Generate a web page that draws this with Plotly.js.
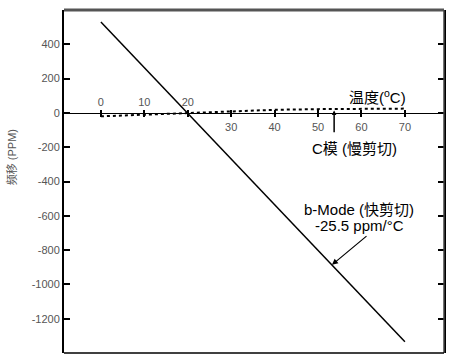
<!DOCTYPE html>
<html>
<head>
<meta charset="utf-8">
<script src="https://cdn.plot.ly/plotly-3.0.1.min.js"></script>
<style>html,body{margin:0;padding:0;background:#fff}#chart{width:450px;height:359px}</style>
</head>
<body>
<div id="chart"></div>
<script>
// Data
const bModeTemp = [0, 70];
const bModeShift = [530, -1335];
const cModeTemp = [0, 10, 20, 30, 40, 50, 60, 70];
const cModeShift = [-20, -10, 0, 12, 18, 22, 24, 25];
const xTickVals = [0, 10, 20, 30, 40, 50, 60, 70];
const xLabelsAbove = ['0', '10', '20', '', '', '', '', ''];
const xLabelsBelow = ['', '', '', '30', '40', '50', '60', '70'];
const yTickVals = [-1200, -1000, -800, -600, -400, -200, 0, 200, 400];
const yTickText = ['-1200', '-1000', '-800', '-600', '-400', '-200', '0', '200', '400'];

const FONT = '"Liberation Sans", Arial, "Noto Sans CJK SC", sans-serif';
const yMin = -1400, yMax = 600;
const zeroPos = (0 - yMin) / (yMax - yMin);

const traces = [
  {x: bModeTemp, y: bModeShift, type: 'scatter', mode: 'lines',
   line: {color: '#000', width: 1.5}, hoverinfo: 'skip'},
  {x: cModeTemp, y: cModeShift, type: 'scatter', mode: 'lines',
   line: {color: '#000', width: 2, dash: 'dot'}, hoverinfo: 'skip'},
  {x: [0], y: [0], xaxis: 'x2', type: 'scatter', mode: 'markers',
   marker: {opacity: 0}, hoverinfo: 'skip'}
];

const tickFont = {family: FONT, size: 11, color: '#555'};
const labelFont = {family: FONT, size: 15, color: '#000'};
const layout = {
  width: 450, height: 359,
  margin: {l: 64, r: 6, t: 10, b: 6},
  paper_bgcolor: '#fff', plot_bgcolor: '#fff',
  showlegend: false,
  font: {family: FONT},
  xaxis: {
    range: [-8.5, 79], anchor: 'free', position: zeroPos, side: 'bottom',
    showline: true, linecolor: '#000', linewidth: 1.5,
    showgrid: false, zeroline: false,
    tickmode: 'array', tickvals: xTickVals, ticktext: xLabelsBelow,
    ticks: 'outside', ticklen: 3, tickwidth: 2, tickcolor: '#000',
    tickfont: tickFont
  },
  xaxis2: {
    overlaying: 'x', matches: 'x', anchor: 'free', position: zeroPos, side: 'top',
    showline: false, showgrid: false, zeroline: false,
    tickmode: 'array', tickvals: xTickVals, ticktext: xLabelsAbove,
    ticks: 'outside', ticklen: 3, tickwidth: 2, tickcolor: '#000',
    tickfont: tickFont
  },
  yaxis: {
    range: [yMin, yMax],
    showline: true, linecolor: '#000', linewidth: 2,
    showgrid: false, zeroline: false,
    tickmode: 'array', tickvals: yTickVals, ticktext: yTickText,
    ticks: 'inside', ticklen: 6, tickwidth: 2, tickcolor: '#000',
    mirror: 'ticks', tickfont: tickFont
  },
  shapes: [
    {type: 'line', xref: 'paper', yref: 'paper', x0: 0, x1: 1, y0: 1, y1: 1,
     line: {color: '#555', width: 3}},
    {type: 'line', xref: 'paper', yref: 'paper', x0: 1, x1: 1, y0: 0, y1: 1,
     line: {color: '#444', width: 1.5}},
    {type: 'line', xref: 'paper', yref: 'paper', x0: 0, x1: 1, y0: 0, y1: 0,
     line: {color: '#000', width: 1.5}}
  ],
  annotations: [
    {x: -0.16, y: 0.57, xref: 'paper', yref: 'paper', text: '频移 (PPM)',
     textangle: -90, showarrow: false, font: {family: FONT, size: 11, color: '#555'}},
    {x: 63.6, y: 95, xref: 'x', yref: 'y', text: '温度(<sup>o</sup>C)', showarrow: false,
     font: labelFont},
    {x: 58.5, y: -206, xref: 'x', yref: 'y', text: 'C模 (慢剪切)', showarrow: false,
     font: labelFont},
    {x: 53.7, y: 14, xref: 'x', yref: 'y', ax: 53.7, ay: -122, axref: 'x', ayref: 'y',
     text: '', showarrow: true, arrowhead: 2, arrowsize: 0.6, arrowwidth: 1.5, arrowcolor: '#000'},
    {x: 59.4, y: -563, xref: 'x', yref: 'y', text: 'b-Mode (快剪切)', showarrow: false,
     font: labelFont},
    {x: 59.6, y: -658, xref: 'x', yref: 'y', text: '-25.5 ppm/°C', showarrow: false,
     font: labelFont},
    {x: 53.2, y: -886, xref: 'x', yref: 'y', ax: 61.5, ay: -711, axref: 'x', ayref: 'y',
     text: '', showarrow: true, arrowhead: 2, arrowsize: 1, arrowwidth: 1.2, arrowcolor: '#000'}
  ]
};

Plotly.newPlot('chart', traces, layout, {displayModeBar: false, staticPlot: true});
</script>
</body>
</html>
